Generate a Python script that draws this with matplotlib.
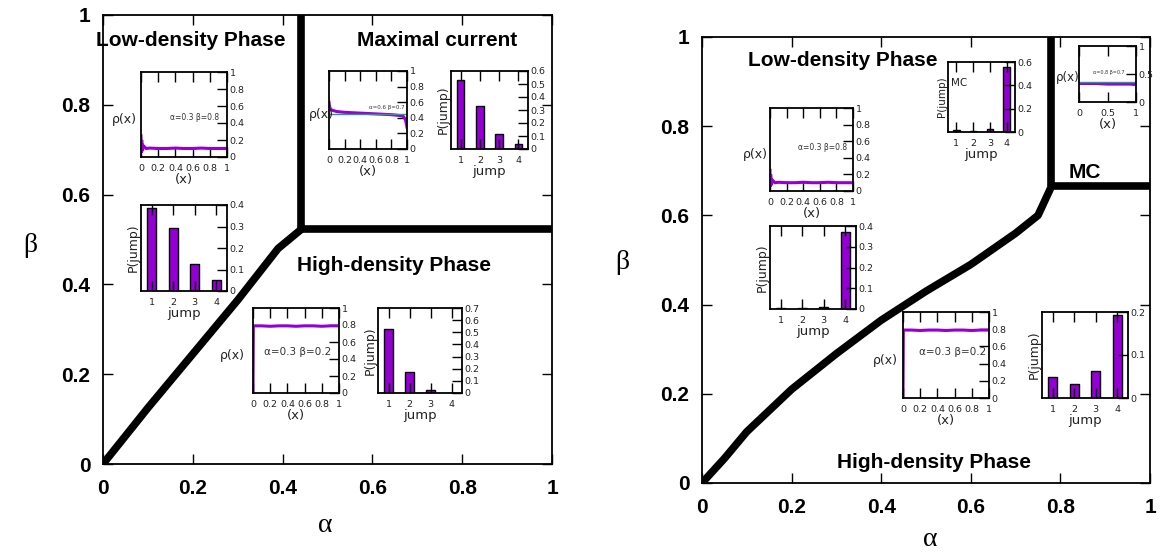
import numpy as np
import matplotlib
matplotlib.use('Agg')
import matplotlib.pyplot as plt

# ==========================================
# 1. Data
# ==========================================
# phase boundaries (alpha, beta)
left_bnd_a = [0, 0.1, 0.2, 0.3, 0.39, 0.442]
left_bnd_b = [0, 0.125, 0.245, 0.365, 0.48, 0.523]
left_mc_a, left_mc_b = 0.442, 0.523

right_bnd_a = [0, 0.05, 0.1, 0.2, 0.3, 0.4, 0.5, 0.6, 0.7, 0.75, 0.78]
right_bnd_b = [0, 0.055, 0.115, 0.21, 0.29, 0.365, 0.43, 0.49, 0.56, 0.60, 0.665]
right_mc_a, right_mc_b = 0.78, 0.665

# jump-length distributions
jumps = [1, 2, 3, 4]
p_ld_left = [0.386, 0.293, 0.126, 0.05]
p_mc_left = [0.53, 0.33, 0.115, 0.04]
p_hd_left = [0.53, 0.17, 0.025, 0.004]
p_ld_right = [0.004, 0.003, 0.01, 0.37]
p_mc_right = [0.015, 0.006, 0.025, 0.556]
p_hd_right = [0.05, 0.033, 0.063, 0.193]

# density profiles rho(x)
x_ld = [0, 0.004, 0.008, 0.015, 0.03, 0.06, 0.1, 0.2, 0.3, 0.4, 0.5, 0.6, 0.7, 0.8, 0.9, 1.0]
rho_ld = [0.25, 0.05, 0.2, 0.07, 0.13, 0.1, 0.105, 0.1, 0.1, 0.105, 0.1, 0.1, 0.105, 0.1, 0.1, 0.1]

x_hd = [0, 0.004, 0.1, 0.2, 0.3, 0.4, 0.5, 0.6, 0.7, 0.8, 0.9, 1.0]
rho_hd = [0.0, 0.79, 0.79, 0.785, 0.79, 0.79, 0.785, 0.79, 0.79, 0.785, 0.79, 0.79]

x_mc = [0, 0.01, 0.03, 0.1, 0.2, 0.4, 0.6, 0.8, 0.9, 0.95, 0.98, 1.0]
rho_mc = [0.6, 0.53, 0.5, 0.48, 0.47, 0.46, 0.45, 0.44, 0.43, 0.42, 0.38, 0.28]
rho_mc_mf = [0.45, 0.45]

x_mc_r = [0, 0.1, 0.3, 0.5, 0.7, 0.9, 1.0]
rho_mc_r = [0.33, 0.33, 0.33, 0.32, 0.32, 0.32, 0.31]
rho_mc_r_mf = [0.35, 0.35]

# ==========================================
# 2. Figure & helpers
# ==========================================
W, H = 1162, 554
purple = '#9400d3'
green = '#20a07a'
main_font = 'Liberation Sans'
small_font = 'DejaVu Sans'

fig = plt.figure(figsize=(W / 100, H / 100), dpi=100)


def px_rect(x0, y0, x1, y1):
    return [x0 / W, 1 - y1 / H, (x1 - x0) / W, (y1 - y0) / H]


def style_inset(ax, xt, yt, ylim, xlim, fs=6.8):
    ax.set_xlim(*xlim)
    ax.set_ylim(*ylim)
    ax.set_xticks(xt)
    ax.set_yticks(yt)
    ax.set_xticklabels([f'{v:g}' for v in xt])
    ax.set_yticklabels([f'{v:g}' for v in yt])
    ax.yaxis.tick_right()
    ax.tick_params(axis='x', direction='in', top=True, bottom=True,
                   length=7, width=1, labelsize=fs, pad=5)
    ax.tick_params(axis='y', direction='in', right=True, left=False,
                   length=7, width=1, labelsize=fs, pad=2)
    for lab in ax.get_xticklabels() + ax.get_yticklabels():
        lab.set_family(small_font)
        lab.set_color('#222222')
    for s in ax.spines.values():
        s.set_linewidth(1.3)
    ax.set_facecolor('white')


def rho_inset(rect, xs, ys, note, note_xy, note_fs, mf=None, ticks=None,
              lab_x=-0.19, lab_fs=9):
    ax = fig.add_axes(px_rect(*rect), zorder=5)
    ax.plot(xs, ys, color=purple, lw=2.2, solid_joinstyle='miter')
    if mf is not None:
        ax.plot([0, 1], mf, color=green, lw=1)
    if ticks is None:
        ticks = [0, 0.2, 0.4, 0.6, 0.8, 1]
    style_inset(ax, ticks, ticks, (0, 1), (0, 1))
    ax.text(lab_x, 0.44, 'ρ(x)', transform=ax.transAxes, ha='center',
            va='center', fontsize=lab_fs, family=small_font, color='#222222')
    ax.set_xlabel('(x)', fontsize=9.5, family=small_font, labelpad=0, color='#222222')
    ax.text(note_xy[0], note_xy[1], note, transform=ax.transAxes, ha='center',
            va='center', fontsize=note_fs, family=small_font, color='#333333')
    return ax


def jump_inset(rect, ps, yt, ymax, note=None, lab_fs=9):
    ax = fig.add_axes(px_rect(*rect), zorder=5)
    ax.bar(jumps, ps, width=0.4, color=purple, edgecolor='black', linewidth=1)
    style_inset(ax, jumps, yt, (0, ymax), (0.5, 4.5))
    ax.set_ylabel('P(jump)', fontsize=lab_fs, family=small_font, labelpad=1, color='#222222')
    ax.set_xlabel('jump', fontsize=9.5, family=small_font, labelpad=0, color='#222222')
    if note:
        ax.text(0.16, 0.7, note, transform=ax.transAxes, ha='center',
                va='center', fontsize=7.5, family=small_font, color='#222222')
    return ax


def main_axes(rect):
    ax = fig.add_axes(px_rect(*rect))
    ax.set_xlim(0, 1)
    ax.set_ylim(0, 1)
    t = [0, 0.2, 0.4, 0.6, 0.8, 1]
    ax.set_xticks(t)
    ax.set_yticks(t)
    ax.set_xticklabels([f'{v:g}' for v in t])
    ax.set_yticklabels([f'{v:g}' for v in t])
    ax.tick_params(direction='in', top=True, right=True, length=7, width=1,
                   labelsize=15)
    ax.tick_params(axis='y', pad=9)
    ax.tick_params(axis='x', pad=11)
    for lab in ax.get_xticklabels() + ax.get_yticklabels():
        lab.set_family(main_font)
        lab.set_weight('bold')
    for s in ax.spines.values():
        s.set_linewidth(1.3)
    return ax


def phase_text(ax, x, y, s):
    ax.text(x, y, s, ha='center', va='center', fontsize=15,
            family=main_font, weight='bold', zorder=6)


# ==========================================
# 3. Left diagram
# ==========================================
axL = main_axes((103, 15, 552, 464))
axL.plot(left_bnd_a, left_bnd_b, color='black', lw=5.5, solid_capstyle='butt')
axL.plot([left_mc_a, left_mc_a], [left_mc_b, 1], color='black', lw=5.5, solid_capstyle='butt')
axL.plot([left_mc_a, 1], [left_mc_b, left_mc_b], color='black', lw=5.5, solid_capstyle='butt')
phase_text(axL, 0.196, 0.944, 'Low-density Phase')
phase_text(axL, 0.744, 0.944, 'Maximal current')
phase_text(axL, 0.647, 0.443, 'High-density Phase')

rho_inset((141, 72, 227, 157), x_ld, rho_ld, 'α=0.3 β=0.8', (0.62, 0.47), 5.5)
jump_inset((141, 205, 227, 291), p_ld_left, [0, 0.1, 0.2, 0.3, 0.4], 0.4)
rho_inset((329, 71, 407, 149), x_mc, rho_mc, 'α=0.6 β=0.7', (0.74, 0.53), 4,
          mf=rho_mc_mf, lab_x=-0.1)
jump_inset((451, 71, 528, 149), p_mc_left, [0, 0.1, 0.2, 0.3, 0.4, 0.5, 0.6], 0.6)
rho_inset((253, 308, 339, 393), x_hd, rho_hd, 'α=0.3 β=0.2', (0.52, 0.48), 7.5,
          lab_x=-0.24)
jump_inset((378, 308, 462, 393), p_hd_left, [0, 0.1, 0.2, 0.3, 0.4, 0.5, 0.6, 0.7], 0.7)

fig.text(30 / W, 1 - 245 / H, 'β', ha='center', va='center', fontsize=20,
         family='Liberation Serif')
fig.text(325 / W, 1 - 525 / H, 'α', ha='center', va='center', fontsize=20,
         family='Liberation Serif')

# ==========================================
# 4. Right diagram
# ==========================================
axR = main_axes((702, 37, 1150, 483))
axR.plot(right_bnd_a, right_bnd_b, color='black', lw=5.5, solid_capstyle='butt')
axR.plot([right_mc_a, right_mc_a], [right_mc_b, 1], color='black', lw=5.5, solid_capstyle='butt')
axR.plot([right_mc_a, 1], [right_mc_b, right_mc_b], color='black', lw=5.5, solid_capstyle='butt')
phase_text(axR, 0.315, 0.948, 'Low-density Phase')
phase_text(axR, 0.854, 0.697, 'MC')
phase_text(axR, 0.518, 0.045, 'High-density Phase')

rho_inset((770, 108, 853, 191), x_ld, rho_ld, 'α=0.3 β=0.8', (0.63, 0.52), 5.5,
          lab_x=-0.18)
jump_inset((770, 226, 856, 309), p_ld_right, [0, 0.1, 0.2, 0.3, 0.4], 0.4)
jump_inset((948, 62, 1015, 132), p_mc_right, [0, 0.2, 0.4, 0.6], 0.6, note='MC',
           lab_fs=7.5)
rho_inset((1079, 46, 1136, 102), x_mc_r, rho_mc_r, 'α=0.8 β=0.7', (0.53, 0.52), 3.5,
          mf=rho_mc_r_mf, ticks=[0, 0.5, 1], lab_x=-0.19, lab_fs=8.5)
rho_inset((903, 312, 989, 398), x_hd, rho_hd, 'α=0.3 β=0.2', (0.58, 0.53), 7.5,
          lab_x=-0.2)
jump_inset((1042, 312, 1128, 398), p_hd_right, [0, 0.1, 0.2], 0.2)

fig.text(622 / W, 1 - 262 / H, 'β', ha='center', va='center', fontsize=20,
         family='Liberation Serif')
fig.text(930 / W, 1 - 540 / H, 'α', ha='center', va='center', fontsize=20,
         family='Liberation Serif')

fig.savefig('out.png', dpi=100)
